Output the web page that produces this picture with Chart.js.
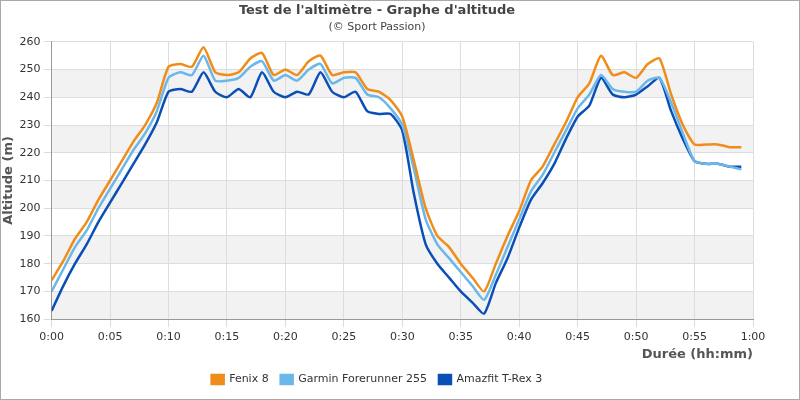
<!DOCTYPE html>
<html>
<head>
<meta charset="utf-8">
<script src="https://cdn.jsdelivr.net/npm/chart.js@4/dist/chart.umd.min.js"></script>
<style>
  body { margin: 0; background: #fff; }
  #wrap { width: 798px; height: 398px; border: 1px solid #aaa; }
</style>
</head>
<body>
<div id="wrap"><canvas id="c" width="798" height="398"></canvas></div>
<script>
// minutes 0..59
const minutes = Array.from({ length: 60 }, (_, i) => i);
const fenix = [174,181,189,195,203,210,217,224,230,238,251,252,251,258,249,248,249,254,256,248,
  250,248,253,255,248,249,249,243,242,239,233,217,200,190,186,180,175,170,180,190,
  199,210,215,223,231,240,245,255,248,249,247,252,254,241,230,223,223,223,222,222];
const garmin = [170,178,186,192,200,207,214,221,227,235,247,249,248,255,246,246,247,251,253,246,
  248,246,250,252,245,247,247,241,240,236,230,214,196,187,182,177,172,167,176,186,
  196,206,212,220,228,236,241,248,243,242,242,246,247,238,227,217,216,216,215,214];
const amazfit = [163,172,180,187,195,202,209,216,223,231,242,243,242,249,242,240,243,240,249,242,
  240,242,241,249,242,240,242,235,234,234,228,205,187,180,175,170,166,162,173,182,
  193,203,209,216,225,233,237,247,241,240,241,244,247,235,225,217,216,216,215,215];
const seriesNames = ['Fenix 8', 'Garmin Forerunner 255', 'Amazfit T-Rex 3'];
const seriesColors = ['#f08c1a', '#6bb7ea', '#0a4fb8'];

function toPoints(arr) { return arr.map((v, i) => ({ x: minutes[i], y: v })); }

Chart.defaults.font.family = 'DejaVu Sans';

// bandes grises alternées
const bands = {
  id: 'bands',
  beforeDraw(chart) {
    const { ctx, chartArea: a, scales: { y } } = chart;
    ctx.save();
    ctx.fillStyle = '#f2f2f2';
    for (let v = 160; v < 260; v += 20) {
      const top = y.getPixelForValue(v + 10), bot = y.getPixelForValue(v);
      ctx.fillRect(a.left, top, a.right - a.left, bot - top);
    }
    ctx.restore();
  }
};

new Chart(document.getElementById('c'), {
  type: 'line',
  data: {
    datasets: [fenix, garmin, amazfit].map((d, i) => ({
      label: seriesNames[i], data: toPoints(d), borderColor: seriesColors[i],
      backgroundColor: seriesColors[i], borderWidth: 2.5, pointRadius: 0, tension: 0.2
    }))
  },
  options: {
    responsive: false, animation: false,
    layout: { padding: { left: 0, right: 46, top: 0, bottom: 4 } },
    scales: {
      x: {
        type: 'linear', min: 0, max: 60,
        ticks: { stepSize: 5, color: '#333', font: { size: 11 },
          callback: v => Math.floor(v / 60) + ':' + String(v % 60).padStart(2, '0') },
        grid: { color: '#ddd' }, border: { color: '#999' },
        title: { display: true, text: 'Durée (hh:mm)', align: 'end', color: '#555',
          font: { size: 13, weight: 'bold' }, padding: 0 }
      },
      y: {
        min: 160, max: 260,
        ticks: { stepSize: 10, color: '#333', font: { size: 11 } },
        grid: { color: '#ddd' }, border: { color: '#999' },
        title: { display: true, text: 'Altitude (m)', color: '#555', font: { size: 13, weight: 'bold' }, padding: 0 }
      }
    },
    plugins: {
      title: { display: true, text: "Test de l'altimètre - Graphe d'altitude", color: '#444',
        font: { size: 13, weight: 'bold' }, padding: { top: 2, bottom: 0 } },
      subtitle: { display: true, text: '(© Sport Passion)', color: '#444',
        font: { size: 11 }, padding: { top: 2, bottom: 8 } },
      legend: { position: 'bottom', labels: { boxWidth: 12, boxHeight: 9, color: '#333',
        font: { size: 11 }, padding: 12 } }
    }
  },
  plugins: [bands]
});
</script>
</body>
</html>
